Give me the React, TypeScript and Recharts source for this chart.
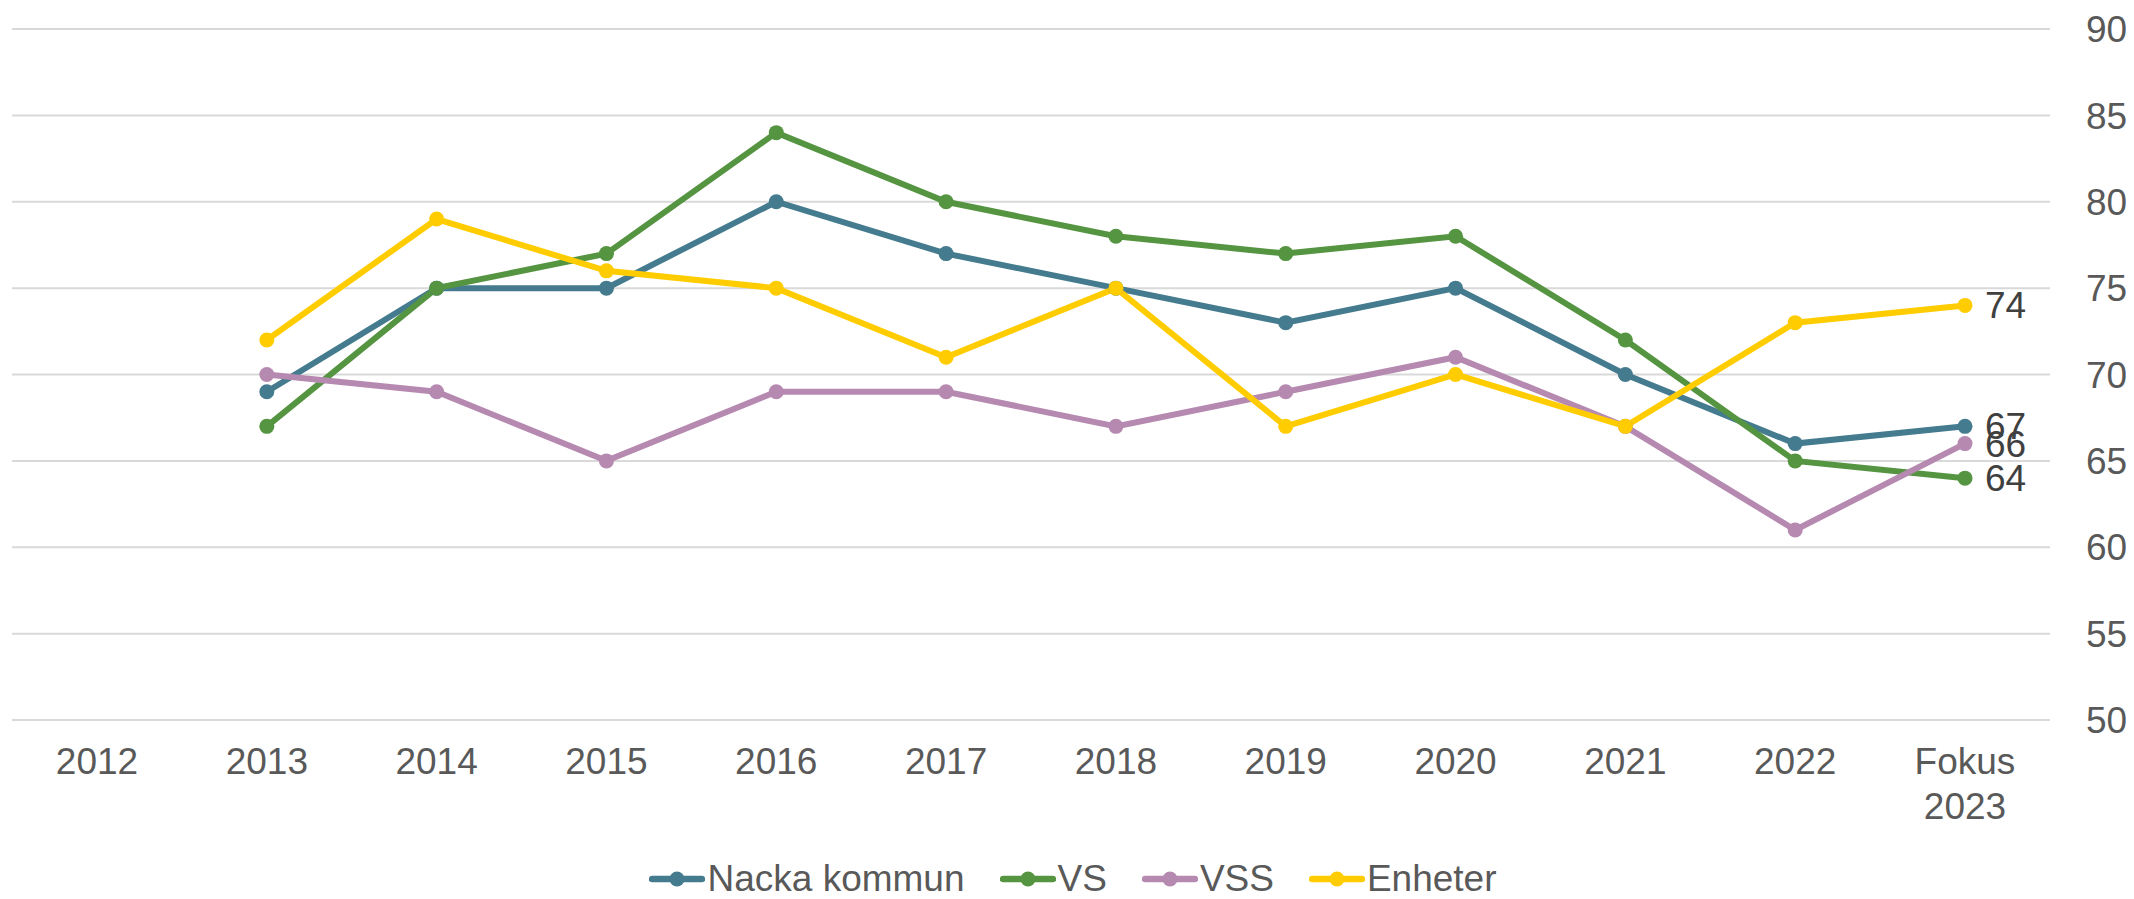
import { LineChart, Line, XAxis, YAxis, CartesianGrid, Legend, LabelList } from "recharts";

const categories = ["2012", "2013", "2014", "2015", "2016", "2017", "2018", "2019", "2020", "2021", "2022", "Fokus 2023"];
const nacka = [null, 69, 75, 75, 80, 77, 75, 73, 75, 70, 66, 67];
const vs = [null, 67, 75, 77, 84, 80, 78, 77, 78, 72, 65, 64];
const vss = [null, 70, 69, 65, 69, 69, 67, 69, 71, 67, 61, 66];
const enheter = [null, 72, 79, 76, 75, 71, 75, 67, 70, 67, 73, 74];
const yTicks = [50, 55, 60, 65, 70, 75, 80, 85, 90];

const series = [
  { key: "nacka", name: "Nacka kommun", color: "#447B8E" },
  { key: "vs", name: "VS", color: "#559441" },
  { key: "vss", name: "VSS", color: "#B689B1" },
  { key: "enheter", name: "Enheter", color: "#FFCC00" },
];

const data = categories.map((c, i) => ({ cat: c, nacka: nacka[i], vs: vs[i], vss: vss[i], enheter: enheter[i] }));

const FONT = "'Liberation Sans', Arial, sans-serif";
const FS = 37;
const last = categories.length - 1;

const XTick = ({ x, y, payload }: any) => {
  const lines = String(payload.value).split(" ");
  return (
    <text x={x} y={y} textAnchor="middle" fill="#595959" fontSize={FS} fontFamily={FONT}>
      {lines.map((l, i) => <tspan key={i} x={x} dy={i === 0 ? 46 : 45}>{l}</tspan>)}
    </text>
  );
};

const EndLabel = ({ x, y, value, index }: any) => {
  if (index !== last) return null;
  return <text x={x + 20} y={y} dy={13} fill="#404040" fontSize={FS} fontFamily={FONT}>{value}</text>;
};

const LegendBox = () => (
  <div style={{ display: "flex", justifyContent: "center", alignItems: "center", gap: 35, height: 40,
    fontFamily: FONT, fontSize: FS, lineHeight: "40px", color: "#595959" }}>
    {series.map(s => (
      <div key={s.key} style={{ display: "flex", alignItems: "center" }}>
        <svg width={56} height={18} style={{ marginRight: 2 }}>
          <line x1={3} y1={9} x2={53} y2={9} stroke={s.color} strokeWidth={6.5} strokeLinecap="round" />
          <circle cx={28} cy={9} r={7.5} fill={s.color} />
        </svg>
        <span>{s.name}</span>
      </div>
    ))}
  </div>
);

export default function App() {
  return (
    <div style={{ margin: -8, width: 2134, height: 899, overflow: "hidden", background: "#fff" }}>
      <LineChart width={2134} height={899} data={data} margin={{ top: 29, right: 0, left: 12, bottom: 0 }}>
        <CartesianGrid vertical={false} stroke="#D9D9D9" strokeWidth={2} />
        <XAxis dataKey="cat" axisLine={false} tickLine={false} height={139} interval={0} tick={<XTick />} padding={{ left: 85, right: 85 }} />
        <YAxis orientation="right" domain={[50, 90]} ticks={yTicks} axisLine={false} tickLine={false} width={84}
          tick={{ fill: "#595959", fontSize: FS, fontFamily: FONT, dx: 28 }} />
        <Legend verticalAlign="bottom" content={<LegendBox />} />
        {series.map(s => (
          <Line key={s.key} dataKey={s.key} name={s.name} stroke={s.color} strokeWidth={6} isAnimationActive={false}
            dot={{ r: 7.5, fill: s.color, stroke: s.color, strokeWidth: 0 }} activeDot={false}>
            <LabelList dataKey={s.key} content={<EndLabel />} />
          </Line>
        ))}
      </LineChart>
    </div>
  );
}
